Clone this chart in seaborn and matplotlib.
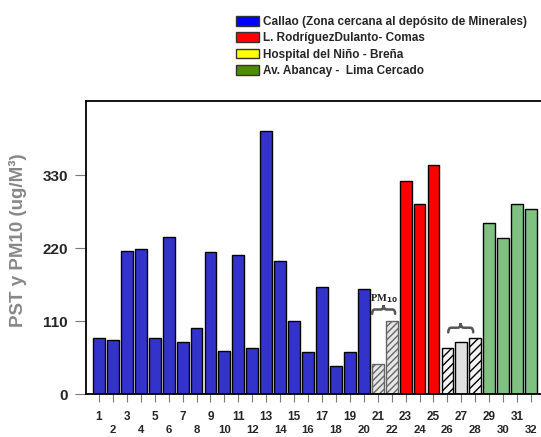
import matplotlib
matplotlib.use("Agg")
import matplotlib.pyplot as plt
import matplotlib.patches as mpatches
from matplotlib.path import Path
import seaborn as sns
import pandas as pd

# ---- data ----
stations = [str(i) for i in range(1, 33)]
values = [85, 82, 215, 218, 85, 237, 79, 99, 214, 65,
          210, 69, 397, 201, 110, 63, 161, 42, 63, 158,
          45, 110, 322, 286, 346, 69, 79, 85, 258, 235, 286, 279]
groups = (["Callao"] * 20 + ["PM10a"] * 2 + ["Comas"] * 3 +
          ["PM10b"] * 3 + ["Abancay"] * 4)
legend_labels = ["Callao (Zona cercana al depósito de Minerales)",
                 "L. RodríguezDulanto- Comas",
                 "Hospital del Niño - Breña",
                 "Av. Abancay -  Lima Cercado"]
legend_colors = ["#0000FF", "#FF0000", "#FFFF00", "#4E8C00"]
yticks = [0, 110, 220, 330]

bar_colors = {"Callao": "#3333CC", "Comas": "#FF0000", "Abancay": "#80C080",
              "PM10a": "#E2E2E2", "PM10b": "#E2E2E2"}

sns.set_style("white")
plt.rcParams['font.family'] = ['Liberation Sans', 'DejaVu Sans']
plt.rcParams['hatch.linewidth'] = 1.0

df = pd.DataFrame({"station": stations, "value": values, "group": groups})

fig = plt.figure(figsize=(5.41, 4.37), dpi=100)
ax = fig.add_axes([86 / 541, 1 - 394 / 437, 459 / 541, 293 / 437])

palette = [bar_colors[g] for g in groups]
sns.barplot(data=df, x="station", y="value", hue="station", palette=palette,
            order=stations, legend=False, width=0.85, ax=ax, saturation=1,
            edgecolor="black", linewidth=1.0)

# hatching for special bars
for i, p in enumerate(ax.patches):
    if i in (20, 21):
        p.set_hatch("/////")
        p.set_edgecolor("#666666")
        p.set_facecolor("#E6E6E6")
    elif i in (25, 27):
        p.set_hatch("////")
        p.set_facecolor("#F4F4F4")
        p.set_edgecolor("black")
    elif i == 26:
        p.set_facecolor("#E2E2E2")

ax.set_ylim(0, 442)
ax.set_xlim(-0.93, 32.0)
ax.set_yticks(yticks)
ax.set_yticklabels([str(v) for v in yticks], fontsize=11, fontweight="bold")
ax.tick_params(axis="y", direction="out", length=8, width=0.8, color="#777777",
               pad=5, left=True)

odd_pos = list(range(0, 32, 2))
even_pos = list(range(1, 32, 2))
ax.set_xticks(odd_pos)
ax.set_xticklabels([stations[i] for i in odd_pos], fontsize=8.5, fontweight="bold")
ax.set_xticks(even_pos, minor=True)
ax.set_xticklabels([stations[i] for i in even_pos], minor=True,
                   fontsize=8.2, fontweight="bold")
ax.tick_params(axis="x", which="major", direction="out", length=6, width=0.8,
               color="#777777", pad=6.5, bottom=True)
ax.tick_params(axis="x", which="minor", direction="out", length=6, width=0.8,
               color="#777777", pad=16, bottom=True)
ax.set_xlabel("")
ax.set_ylabel("")

for s in ["left", "top", "bottom", "right"]:
    ax.spines[s].set_color("black")
    ax.spines[s].set_linewidth(1.3)


def brace(ax, x0, x1, yb, h, color="#555555", lw=1.8):
    cx = (x0 + x1) / 2
    q = (x1 - x0) * 0.12
    ym = yb + h / 2
    verts = [(x0, yb), (x0, ym), (x0 + q, ym),
             (cx - q, ym),
             (cx, ym), (cx, yb + h),
             (cx, ym), (cx + q, ym),
             (x1 - q, ym),
             (x1, ym), (x1, yb)]
    codes = [Path.MOVETO, Path.CURVE3, Path.CURVE3,
             Path.LINETO,
             Path.CURVE3, Path.CURVE3,
             Path.CURVE3, Path.CURVE3,
             Path.LINETO,
             Path.CURVE3, Path.CURVE3]
    ax.add_patch(mpatches.PathPatch(Path(verts, codes), fill=False,
                                    edgecolor=color, lw=lw, capstyle="round"))


# braces and PM10 label
brace(ax, 19.6, 21.25, 121, 13)
ax.text(20.45, (394 - 298) / 0.6636, r"PM$_{\mathbf{10}}$", fontsize=7.5,
        fontweight="bold", family="Liberation Serif", color="#222222",
        ha="center", va="center")
brace(ax, 25.06, 26.85, 93, 14)

# y label
fig.text(18 / 541, 1 - 240 / 437, "PST y PM10 (ug/M³)", rotation=90,
         fontsize=13.5, fontweight="bold", color="#888888",
         ha="center", va="center")

# legend
handles = [mpatches.Patch(facecolor=c, edgecolor="#333333", linewidth=1.0)
           for c in legend_colors]
fig.legend(handles, legend_labels, loc="upper left",
           bbox_to_anchor=(235 / 541, 1 - 14.5 / 437), frameon=False,
           prop={"family": "Liberation Sans", "weight": "bold", "size": 8.5},
           handlelength=1.9, handleheight=0.9, handletextpad=0.35,
           labelspacing=0.38, borderaxespad=0, borderpad=0.1)

fig.savefig("out.png", dpi=100)
